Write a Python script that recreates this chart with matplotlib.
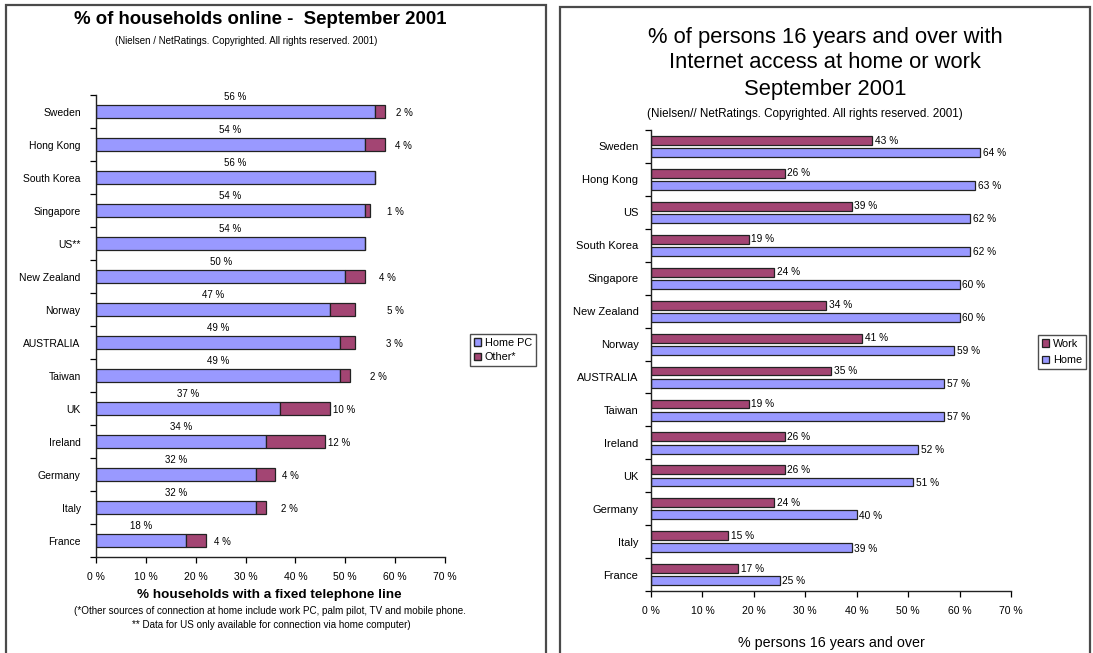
import matplotlib
matplotlib.use("Agg")
import matplotlib.pyplot as plt
from matplotlib.patches import Rectangle, Patch
from matplotlib.ticker import FuncFormatter, FixedLocator
import numpy as np

plt.rcParams['font.family'] = ['Liberation Sans', 'DejaVu Sans']

# ---- Households online (left chart) ----
hh_countries = ["Sweden", "Hong Kong", "South Korea", "Singapore", "US**", "New Zealand",
                "Norway", "AUSTRALIA", "Taiwan", "UK", "Ireland", "Germany", "Italy", "France"]
hh_home_pc = [56, 54, 56, 54, 54, 50, 47, 49, 49, 37, 34, 32, 32, 18]
hh_other = [2, 4, 0, 1, 0, 4, 5, 3, 2, 10, 12, 4, 2, 4]
# horizontal gap (points) between a stacked bar's end and its "Other" label
hh_other_label_gap = [11, 10, 0, 15, 0, 13, 26, 25, 17, 7, 7, 8, 14, 9]

# ---- Persons 16+ with access (right chart) ----
pp_countries = ["Sweden", "Hong Kong", "US", "South Korea", "Singapore", "New Zealand",
                "Norway", "AUSTRALIA", "Taiwan", "Ireland", "UK", "Germany", "Italy", "France"]
pp_work = [43, 26, 39, 19, 24, 34, 41, 35, 19, 26, 26, 24, 15, 17]
pp_home = [64, 63, 62, 62, 60, 60, 59, 57, 57, 52, 51, 40, 39, 25]

x_ticks = [0, 10, 20, 30, 40, 50, 60, 70]

C_HOME = "#9999FF"
C_OTHER = "#A34573"
W, H = 1093, 653

fig = plt.figure(figsize=(W / 100, H / 100), dpi=100)
fig.patch.set_facecolor("white")


def px_axes(x0, y0, x1, y1):
    return fig.add_axes([x0 / W, 1 - y1 / H, (x1 - x0) / W, (y1 - y0) / H])


def fx(x):
    return x / W


def fy(y):
    return 1 - y / H


# panel frames
for (x0, y0, x1, y1) in [(6, 5, 546, 660), (560, 7, 1090, 660)]:
    fig.add_artist(Rectangle((fx(x0), fy(y1)), fx(x1 - x0), (y1 - y0) / H,
                             transform=fig.transFigure, fill=False,
                             edgecolor="#4a4a4a", linewidth=1.6, clip_on=False))

pct_fmt = FuncFormatter(lambda v, p: f"{int(v)} %")


def style_axes(ax, n, labels, pad, ylsize):
    ax.set_xlim(0, 70)
    ax.set_ylim(n - 0.5, -0.5)
    ax.set_xticks(x_ticks)
    ax.xaxis.set_major_formatter(pct_fmt)
    ax.set_yticks(np.arange(n))
    ax.set_yticklabels(labels)
    ax.yaxis.set_minor_locator(FixedLocator(np.arange(n + 1) - 0.5))
    ax.tick_params(axis="y", which="major", length=0, pad=pad, labelsize=ylsize)
    ax.tick_params(axis="y", which="minor", length=4, width=0.9, direction="out")
    ax.tick_params(axis="x", which="major", length=4, width=0.9, direction="out",
                   labelsize=7.5, pad=7)
    for s in ("top", "right"):
        ax.spines[s].set_visible(False)
    for s in ("left", "bottom"):
        ax.spines[s].set_linewidth(1.0)
        ax.spines[s].set_color("#222222")


# ---------- left chart ----------
ax1 = px_axes(96, 95, 445, 557)
n1 = len(hh_countries)
y1 = np.arange(n1)
ax1.barh(y1, hh_home_pc, height=0.4, color=C_HOME, edgecolor="#222222", linewidth=0.9)
ax1.barh(y1, hh_other, left=hh_home_pc, height=0.4, color=C_OTHER,
         edgecolor="#222222", linewidth=0.9)
style_axes(ax1, n1, hh_countries, 11, 7.5)

for i in range(n1):
    ax1.text(hh_home_pc[i] / 2, y1[i] - 0.44, f"{hh_home_pc[i]} %", ha="center",
             va="center", fontsize=7)
    if hh_other[i] > 0:
        ax1.annotate(f"{hh_other[i]} %", xy=(hh_home_pc[i] + hh_other[i], y1[i] + 0.05),
                     xytext=(hh_other_label_gap[i] + 3, 0), textcoords="offset points",
                     ha="center", va="center", fontsize=7)

ax1.legend(handles=[Patch(facecolor=C_HOME, edgecolor="#222222", label="Home PC"),
                    Patch(facecolor=C_OTHER, edgecolor="#222222", label="Other*")],
           loc="center left", bbox_to_anchor=(fx(470), fy(350)),
           bbox_transform=fig.transFigure, fontsize=7.8, frameon=True, fancybox=False,
           edgecolor="#222222", handlelength=0.7, handleheight=0.7, handletextpad=0.3,
           borderpad=0.35, labelspacing=0.45, borderaxespad=0)

fig.text(fx(260), fy(20), "% of households online -  September 2001", ha="center",
         va="center", fontsize=13.4, fontweight="bold")
fig.text(fx(246), fy(41), "(Nielsen / NetRatings. Copyrighted. All rights reserved. 2001)",
         ha="center", va="center", fontsize=7)
fig.text(fx(269), fy(595), "% households with a fixed telephone line", ha="center",
         va="center", fontsize=9.7, fontweight="bold")
fig.text(fx(270), fy(611), "(*Other sources of connection at home include work PC, palm pilot, TV and mobile phone.",
         ha="center", va="center", fontsize=7.1)
fig.text(fx(271), fy(625), "** Data for US only available for connection via home computer)",
         ha="center", va="center", fontsize=7.1)

# ---------- right chart ----------
ax2 = px_axes(651, 130, 1011, 591)
n2 = len(pp_countries)
y2 = np.arange(n2)
bh = 0.27
ax2.barh(y2 - 0.18, pp_work, height=bh, color=C_OTHER, edgecolor="#222222", linewidth=0.9,
         label="Work")
ax2.barh(y2 + 0.19, pp_home, height=bh, color=C_HOME, edgecolor="#222222", linewidth=0.9,
         label="Home")
style_axes(ax2, n2, pp_countries, 9, 8)

for i in range(n2):
    ax2.annotate(f"{pp_work[i]} %", xy=(pp_work[i], y2[i] - 0.18), xytext=(2, 0),
                 textcoords="offset points", ha="left", va="center", fontsize=7.3)
    ax2.annotate(f"{pp_home[i]} %", xy=(pp_home[i], y2[i] + 0.21), xytext=(2, 0),
                 textcoords="offset points", ha="left", va="center", fontsize=7.3)

ax2.legend(loc="center left", bbox_to_anchor=(fx(1038), fy(352)),
           bbox_transform=fig.transFigure, fontsize=7.8, frameon=True, fancybox=False,
           edgecolor="#222222", handlelength=0.7, handleheight=0.7, handletextpad=0.3,
           borderpad=0.35, labelspacing=0.6, borderaxespad=0)

fig.text(fx(825), fy(37), "% of persons 16 years and over with", ha="center", va="center",
         fontsize=15.8)
fig.text(fx(825), fy(63), "Internet access at home or work", ha="center", va="center",
         fontsize=15.8)
fig.text(fx(825), fy(89), "September 2001", ha="center", va="center", fontsize=15.8)
fig.text(fx(805), fy(114), "(Nielsen// NetRatings. Copyrighted. All rights reserved. 2001)",
         ha="center", va="center", fontsize=8.4)
fig.text(fx(831), fy(643), "% persons 16 years and over", ha="center", va="center",
         fontsize=10.3)

fig.savefig("out.png", dpi=100, facecolor="white")
